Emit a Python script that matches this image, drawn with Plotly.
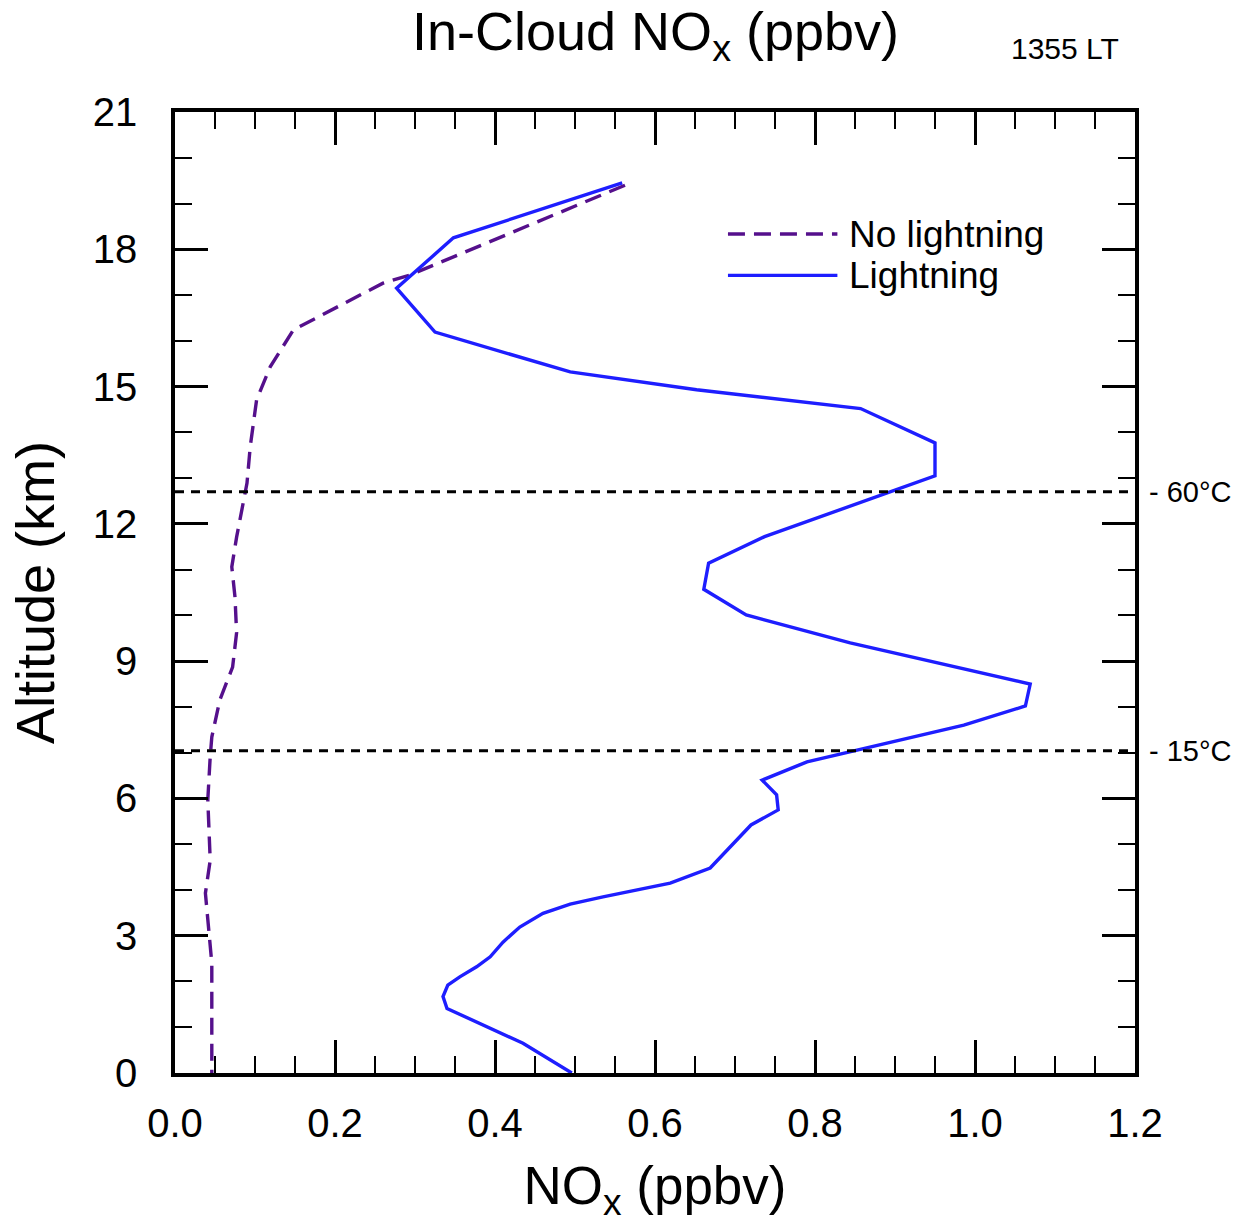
import plotly.graph_objects as go

# Data
alt_lightning = [19.45, 18.25, 17.15, 16.19, 15.32, 14.93, 14.52, 13.77, 13.05, 11.72, 11.14,
                 10.57, 10.01, 9.40, 8.50, 8.02, 7.60, 6.80, 6.40, 6.08, 5.75, 5.42, 4.48,
                 4.15, 3.85, 3.69, 3.49, 3.19, 2.86, 2.54, 2.32, 2.10, 1.92, 1.67, 1.41,
                 1.01, 0.65, 0.0]
nox_lightning = [0.559, 0.348, 0.277, 0.325, 0.494, 0.652, 0.857, 0.950, 0.950, 0.737, 0.667,
                 0.661, 0.714, 0.844, 1.069, 1.063, 0.986, 0.790, 0.734, 0.752, 0.754, 0.720, 0.669,
                 0.619, 0.535, 0.494, 0.460, 0.431, 0.410, 0.394, 0.377, 0.356, 0.341, 0.335, 0.340,
                 0.390, 0.435, 0.496]

alt_nolightning = [19.40, 17.44, 17.26, 16.96, 16.24, 15.43, 14.71, 13.68, 12.89, 11.71, 11.06,
                   10.40, 9.62, 8.87, 8.15, 7.34, 6.91, 5.97, 4.65, 3.93, 3.28, 2.40, 0.0]
nox_nolightning = [0.5625, 0.294, 0.260, 0.227, 0.148, 0.119, 0.102, 0.094, 0.090, 0.077, 0.071,
                   0.075, 0.077, 0.072, 0.056, 0.046, 0.044, 0.041, 0.044, 0.038, 0.041, 0.046, 0.046]

temp_levels = [12.70, 7.04]
temp_labels = ["- 60°C", "- 15°C"]

x_ticks = [0.0, 0.2, 0.4, 0.6, 0.8, 1.0, 1.2]
x_ticklabels = ["0.0", "0.2", "0.4", "0.6", "0.8", "1.0", "1.2"]
y_ticks = [0, 3, 6, 9, 12, 15, 18, 21]

series_names = ["No lightning", "Lightning"]
PURPLE = "#55108c"
BLUE = "#1e1eff"
FONT = "Liberation Sans"

fig = go.Figure()
fig.add_trace(go.Scatter(x=nox_nolightning, y=alt_nolightning, mode="lines", name=series_names[0],
                         line=dict(color=PURPLE, width=3.4, dash="17px,9px")))
fig.add_trace(go.Scatter(x=nox_lightning, y=alt_lightning, mode="lines", name=series_names[1],
                         line=dict(color=BLUE, width=3.4)))

for lvl in temp_levels:
    fig.add_shape(type="line", xref="paper", yref="y", x0=0, x1=1, y0=lvl, y1=lvl,
                  line=dict(color="black", width=3, dash="9px,7px"))
for lvl, lab in zip(temp_levels, temp_labels):
    fig.add_annotation(xref="paper", yref="y", x=1.013, y=lvl, text=lab, showarrow=False,
                       xanchor="left", yanchor="middle", font=dict(size=29, color="black", family=FONT))

# Legend drawn manually (long line samples)
leg_y = [0.873, 0.830]
leg_colors = [PURPLE, BLUE]
leg_dash = ["17px,9px", "solid"]
for yy, name, col, dsh in zip(leg_y, series_names, leg_colors, leg_dash):
    fig.add_shape(type="line", xref="paper", yref="paper", x0=0.576, x1=0.69, y0=yy, y1=yy,
                  line=dict(color=col, width=3.4, dash=dsh))
    fig.add_annotation(xref="paper", yref="paper", x=0.70, y=yy, text=name, showarrow=False,
                       xanchor="left", yanchor="middle", font=dict(size=37, color="black", family=FONT))

# Title and time stamp
fig.add_annotation(xref="paper", yref="paper", x=0.5, y=1.080, text="In-Cloud NO<sub>x</sub> (ppbv)",
                   showarrow=False, xanchor="center", yanchor="middle",
                   font=dict(size=54, color="black", family=FONT))
fig.add_annotation(xref="paper", yref="paper", x=0.927, y=1.066, text="1355 LT",
                   showarrow=False, xanchor="center", yanchor="middle",
                   font=dict(size=30, color="black", family=FONT))

axis_common = dict(showgrid=False, zeroline=False, showline=True, linecolor="black", linewidth=3.5,
                   mirror="ticks", ticks="inside", tickcolor="black", tickwidth=3, ticklen=33,
                   tickfont=dict(size=40, color="black", family=FONT))
fig.update_xaxes(range=[0, 1.2], tickvals=x_ticks, ticktext=x_ticklabels,
                 minor=dict(dtick=0.05, ticks="inside", ticklen=17, tickwidth=2, tickcolor="black"),
                 title=dict(text="NO<sub>x</sub> (ppbv)", font=dict(size=53, color="black", family=FONT), standoff=24),
                 ticklabelstandoff=12, **axis_common)
fig.update_yaxes(range=[0, 21], tickvals=y_ticks,
                 minor=dict(dtick=1, ticks="inside", ticklen=17, tickwidth=2, tickcolor="black"),
                 title=dict(text="Altitude (km)", font=dict(size=54, color="black", family=FONT), standoff=22),
                 ticklabelstandoff=26, **axis_common)

fig.update_layout(width=1252, height=1226, showlegend=False,
                  margin=dict(l=175, r=117, t=112, b=153),
                  plot_bgcolor="white", paper_bgcolor="white",
                  font=dict(family=FONT, color="black"))

fig.write_html("out.html")
